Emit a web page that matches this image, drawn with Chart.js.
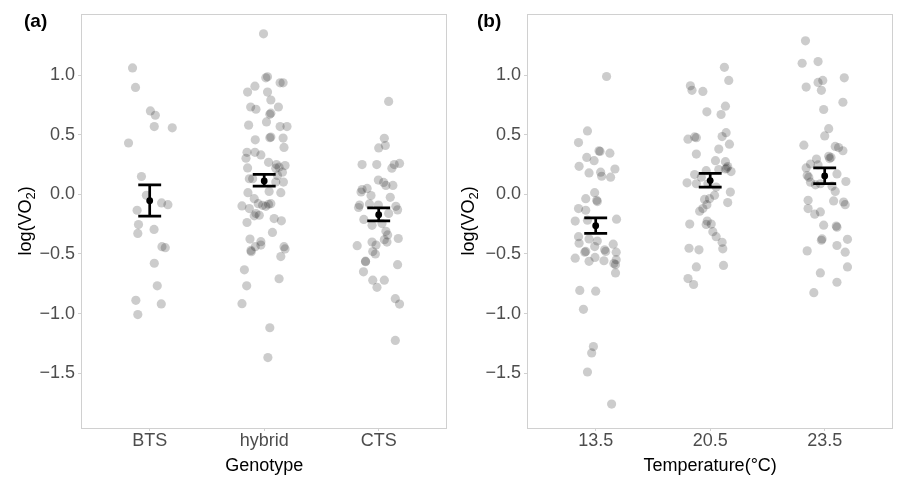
<!DOCTYPE html>
<html>
<head>
<meta charset="utf-8">
<script src="https://cdn.jsdelivr.net/npm/chart.js@4.4.1/dist/chart.umd.min.js"></script>
<style>
  html, body { margin: 0; padding: 0; background: #fff; }
  #wrap { position: relative; width: 898px; height: 477px; }
  .panel { position: absolute; top: 0; height: 477px; }
</style>
</head>
<body>
<div id="wrap">
  <div class="panel" style="left:0;width:452px"><canvas id="chartA"></canvas></div>
  <div class="panel" style="left:452px;width:446px"><canvas id="chartB"></canvas></div>
</div>
<script>
// ---- panel (a): genotype ----
const genotypes = ['BTS', 'hybrid', 'CTS'];

const btsLog = [1.061, 0.897, 0.70, 0.664, 0.569, 0.558, 0.431, 0.15, -0.008, -0.072, -0.086,
  -0.133, -0.253, -0.328, -0.294, -0.439, -0.447, -0.578, -0.767, -0.889, -1.008, -0.919];
const btsJit = [-0.150, -0.124, 0.006, 0.049, 0.040, 0.197, -0.185, -0.072, -0.029, 0.104, 0.159,
  -0.110, -0.098, -0.104, 0.038, 0.107, 0.136, 0.040, 0.066, -0.121, -0.104, 0.101];

const hybridLog = [1.347, 0.986, 0.978, 0.908, 0.858, 0.858, 0.936, 0.936, 0.792, 0.733, 0.714,
  0.733, 0.681, 0.672, 0.581, 0.608, 0.569, 0.569, 0.458, 0.481, 0.475, 0.472, 0.353, 0.353,
  0.303, 0.331, 0.394, 0.222, 0.269, 0.25, 0.228, 0.242, 0.22, 0.131, 0.131, 0.158, 0.186,
  0.014, 0.025, 0.014, 0.103, 0.103, -0.036, -0.078, -0.092, -0.083, -0.078, -0.10, -0.097,
  -0.119, -0.161, -0.175, -0.18, -0.203, -0.222, -0.236, -0.319, -0.375, -0.397, -0.481,
  -0.439, -0.425, -0.47, -0.439, -0.458, -0.522, -0.633, -0.767, -0.708, -0.917, -1.119, -1.369];
const hybridJit = [-0.006, 0.029, 0.014, -0.081, -0.145, 0.029, 0.139, 0.165, 0.058, -0.118, -0.072,
  0.124, 0.058, 0.049, -0.136, 0.020, 0.139, 0.199, -0.078, 0.058, 0.049, 0.165, -0.150, -0.081,
  -0.159, -0.029, 0.173, -0.145, 0.038, 0.107, 0.130, 0.182, 0.101, -0.130, -0.101, 0.116, 0.159,
  -0.142, 0.043, 0.145, 0.101, 0.168, -0.087, -0.052, -0.014, 0.038, 0.058, 0.014, -0.194,
  -0.130, -0.072, -0.043, -0.087, 0.087, 0.150, -0.150, 0.072, -0.124, -0.029, -0.113,
  -0.078, -0.029, -0.116, 0.173, 0.182, 0.145, -0.173, -0.153, 0.130, -0.194, 0.049, 0.032];

const ctsLog = [0.78, 0.47, 0.41, 0.39, 0.25, 0.25, 0.22, 0.25, 0.26, 0.12, 0.10, 0.075, 0.075,
  0.04, 0.05, 0.02, -0.01, -0.025, -0.09, -0.11, -0.08, -0.09, -0.10, -0.13, -0.16, -0.21,
  -0.26, -0.245, -0.31, -0.34, -0.38, -0.40, -0.37, -0.43, -0.40, -0.425, -0.48, -0.50, -0.56,
  -0.565, -0.59, -0.65, -0.72, -0.72, -0.78, -0.875, -0.92, -1.225];
const ctsJit = [0.087, 0.049, 0.058, 0.0, -0.145, -0.017, 0.115, 0.136, 0.182, -0.003, 0.043, 0.063, 0.124,
  -0.145, -0.101, -0.154, -0.067, 0.101, -0.167, -0.176, -0.081, -0.003, 0.150, 0.165, 0.087, -0.130,
  -0.058, 0.029, 0.063, 0.078, 0.049, 0.072, 0.171, -0.188, -0.058, -0.023, -0.052, -0.029, -0.115,
  -0.115, 0.165, -0.133, -0.052, 0.049, -0.015, 0.145, 0.182, 0.145];

const genotypeMean = [-0.053, 0.113, -0.170];
const genotypeLow = [-0.183, 0.069, -0.222];
const genotypeHigh = [0.080, 0.167, -0.114];

// ---- panel (b): temperature ----
const temperatures = ['13.5', '20.5', '23.5'];

const t135Log = [0.989, 0.532, 0.435, 0.365, 0.36, 0.346, 0.310, 0.283, 0.235, 0.213, 0.180, 0.186,
  0.152, 0.144, 0.014, -0.036, -0.050, -0.06, -0.119, -0.133, -0.224, -0.216, -0.208, -0.355,
  -0.410, -0.374, -0.391, -0.438, -0.465, -0.418, -0.479, -0.485, -0.479, -0.485, -0.535,
  -0.562, -0.529, -0.557, -0.548, -0.590, -0.58, -0.659, -0.806, -0.812, -0.964, -1.277,
  -1.330, -1.490, -1.759];
const t135Jit = [0.095, -0.072, -0.150, 0.029, 0.038, 0.124, -0.078, -0.014, -0.145, 0.168, -0.058, 0.043,
  0.052, 0.130, -0.009, -0.087, 0.009, 0.014, -0.150, -0.087, -0.179, -0.072, 0.182, -0.150,
  -0.145, -0.058, 0.014, -0.009, 0.078, 0.153, -0.087, -0.095, 0.087, 0.179, -0.179,
  -0.058, -0.006, 0.072, 0.179, 0.173, 0.159, 0.173, -0.139, 0.0, -0.107, -0.020,
  -0.035, -0.072, 0.139];

const t205Log = [1.066, 0.911, 0.873, 0.864, 0.956, 0.693, 0.740, 0.670, 0.463, 0.482, 0.476, 0.518,
  0.485, 0.421, 0.380, 0.338, 0.283, 0.274, 0.233, 0.213, 0.22, 0.199, 0.208, 0.191, 0.166, 0.144,
  0.097, 0.089, 0.089, 0.061, 0.019, -0.008, -0.042, -0.036, -0.086, -0.119, -0.141, -0.069,
  -0.249, -0.224, -0.249, -0.313, -0.355, -0.252, -0.402, -0.457, -0.452, -0.465, -0.596,
  -0.609, -0.706, -0.756];
const t205Jit = [0.124, -0.173, -0.159, -0.064, 0.162, -0.029, 0.133, 0.095, -0.194, -0.136, -0.121, 0.139,
  0.104, 0.168, 0.075, -0.121, 0.046, 0.133, 0.153, 0.133, 0.145, -0.035, 0.075, 0.182, -0.136, -0.078,
  -0.202, -0.121, -0.020, 0.052, 0.176, 0.038, -0.049, -0.006, -0.029, -0.064, -0.092, 0.153,
  -0.179, -0.026, 0.009, 0.023, 0.052, -0.035, 0.104, 0.110, -0.185, -0.098, 0.116,
  -0.121, -0.194, -0.145];

const t235Log = [1.288, 1.100, 1.114, 0.900, 0.939, 0.956, 0.873, 0.978, 0.773, 0.712, 0.551, 0.490,
  0.413, 0.402, 0.393, 0.366, 0.319, 0.310, 0.30, 0.296, 0.255, 0.222, 0.158, 0.247, 0.172, 0.144,
  0.102, 0.080, 0.089, 0.108, 0.069, 0.025, -0.050, -0.055, -0.064, -0.086, -0.119, -0.166,
  -0.147, -0.258, -0.266, -0.275, -0.374, -0.385, -0.377, -0.429, -0.474, -0.485, -0.609,
  -0.659, -0.737, -0.825];
const t235Jit = [-0.168, -0.197, -0.058, -0.162, -0.058, -0.017, -0.029, 0.171, 0.159, -0.009, 0.035, 0.0,
  -0.182, 0.092, 0.121, 0.159, 0.035, 0.055, 0.043, -0.072, -0.124, -0.162, -0.153, -0.058, 0.107, -0.139,
  -0.124, -0.081, -0.038, 0.185, 0.064, 0.092, -0.145, 0.078, 0.165, 0.179, -0.145, -0.087,
  -0.038, -0.009, 0.101, 0.107, -0.023, -0.029, 0.199, 0.107, -0.153, 0.179, 0.199,
  -0.038, 0.107, -0.095];

const tempMean = [-0.263, 0.116, 0.155];
const tempLow = [-0.327, 0.061, 0.091];
const tempHigh = [-0.197, 0.177, 0.222];

const yTicks = [-1.5, -1.0, -0.5, 0.0, 0.5, 1.0];

const FONT = '"Liberation Sans", Arial, sans-serif';
const CAP = 0.1;

// box around the panel, the y title with its subscript and the (a)/(b) tag
const panelDecor = {
  id: 'panelDecor',
  afterDraw(chart, args, opts) {
    const { ctx, chartArea: a } = chart;
    ctx.save();
    ctx.strokeStyle = '#d0d0d0';
    ctx.lineWidth = 1;
    ctx.strokeRect(Math.round(a.left) + 0.5, Math.round(a.top) + 0.5,
      Math.round(a.right - a.left) - 1, Math.round(a.bottom - a.top));

    ctx.fillStyle = '#000';
    ctx.font = 'bold 19px ' + FONT;
    ctx.textBaseline = 'middle';
    ctx.textAlign = 'left';
    ctx.fillText(opts.tag, opts.tagX, 22);

    const big = '18px ' + FONT, small = '13px ' + FONT;
    ctx.font = big;
    const w1 = ctx.measureText('log(VO').width;
    const w3 = ctx.measureText(')').width;
    ctx.font = small;
    const w2 = ctx.measureText('2').width;
    const total = w1 + w2 + w3;
    ctx.translate(opts.titleX, (a.top + a.bottom) / 2);
    ctx.rotate(-Math.PI / 2);
    ctx.textBaseline = 'alphabetic';
    let x = -total / 2;
    ctx.font = big;
    ctx.fillText('log(VO', x, 6);
    x += w1;
    ctx.font = small;
    ctx.fillText('2', x, 10);
    x += w2;
    ctx.font = big;
    ctx.fillText(')', x, 6);
    ctx.restore();
  }
};

function makeChart(id, cats, logs, jits, means, lows, highs, xTitle, axisW, tag, tagX, titleX) {
  const datasets = [];
  logs.forEach((vals, i) => {
    datasets.push({
      data: vals.map((v, k) => ({ x: i + 1 + jits[i][k], y: v })),
      pointRadius: 4.6,
      pointBackgroundColor: 'rgba(0,0,0,0.2)',
      pointBorderWidth: 0,
      showLine: false,
      order: 3
    });
  });

  const bars = [];
  means.forEach((m, i) => {
    const c = i + 1;
    bars.push({ x: c, y: lows[i] }, { x: c, y: highs[i] }, { x: c, y: null });
    bars.push({ x: c - CAP, y: lows[i] }, { x: c + CAP, y: lows[i] }, { x: c, y: null });
    bars.push({ x: c - CAP, y: highs[i] }, { x: c + CAP, y: highs[i] }, { x: c, y: null });
  });
  datasets.push({
    data: bars,
    showLine: true,
    spanGaps: false,
    borderColor: '#000',
    borderWidth: 2.7,
    borderCapStyle: 'butt',
    pointRadius: 0,
    order: 1
  });
  datasets.push({
    data: means.map((m, i) => ({ x: i + 1, y: m })),
    pointRadius: 3.4,
    pointBackgroundColor: '#000',
    pointBorderWidth: 0,
    showLine: false,
    order: 0
  });

  return new Chart(document.getElementById(id), {
    type: 'scatter',
    data: { datasets },
    plugins: [panelDecor],
    options: {
      responsive: true,
      maintainAspectRatio: false,
      animation: false,
      layout: { padding: { top: 10, right: 2, left: 0, bottom: 0 } },
      plugins: {
        legend: { display: false },
        tooltip: { enabled: false },
        panelDecor: { tag, tagX, titleX }
      },
      scales: {
        x: {
          type: 'linear',
          min: 0.4,
          max: 3.6,
          afterFit: s => { s.height = 49; },
          afterBuildTicks: s => { s.ticks = [1, 2, 3].map(v => ({ value: v })); },
          grid: { drawOnChartArea: false, drawTicks: true, tickLength: 3, color: '#d0d0d0' },
          border: { display: false },
          ticks: {
            callback: v => cats[v - 1],
            color: '#4d4d4d',
            font: { family: FONT, size: 18 },
            padding: -1,
            maxRotation: 0
          },
          title: {
            display: true,
            text: xTitle,
            color: '#000',
            font: { family: FONT, size: 18 },
            padding: { top: 0, bottom: 0 }
          }
        },
        y: {
          min: -1.96,
          max: 1.515,
          afterFit: s => { s.width = axisW; },
          afterBuildTicks: s => { s.ticks = yTicks.map(v => ({ value: v })); },
          grid: { drawOnChartArea: false, drawTicks: true, tickLength: 3, color: '#d0d0d0' },
          border: { display: false },
          ticks: {
            callback: v => (v < 0 ? '\u2212' : '') + Math.abs(v).toFixed(1),
            color: '#4d4d4d',
            font: { family: FONT, size: 18 },
            padding: 3
          }
        }
      }
    }
  });
}

makeChart('chartA', genotypes, [btsLog, hybridLog, ctsLog], [btsJit, hybridJit, ctsJit],
  genotypeMean, genotypeLow, genotypeHigh, 'Genotype', 81, '(a)', 24, 25);
makeChart('chartB', temperatures, [t135Log, t205Log, t235Log], [t135Jit, t205Jit, t235Jit],
  tempMean, tempLow, tempHigh, 'Temperature(\u00b0C)', 75, '(b)', 25, 16);
</script>
</body>
</html>
